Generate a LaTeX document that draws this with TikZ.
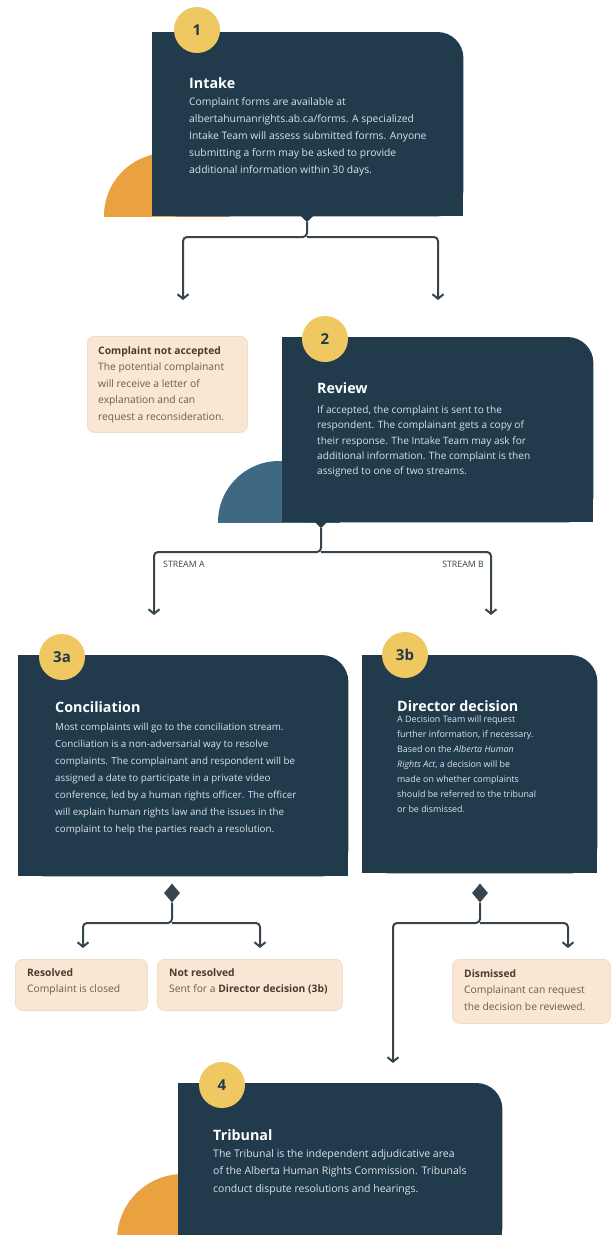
\documentclass[tikz,border=0pt]{standalone}
\usepackage{fontspec}
\setmainfont{Open Sans}
\usetikzlibrary{arrows.meta,shapes.geometric}
\definecolor{navy}{HTML}{213A4C}
\definecolor{bodytxt}{HTML}{DCE3E8}
\definecolor{yell}{HTML}{F0C862}
\definecolor{orangeC}{HTML}{E9A23F}
\definecolor{bluegrey}{HTML}{3F6982}
\definecolor{peach}{HTML}{F9E7D3}
\definecolor{peachedge}{HTML}{F1DCC6}
\definecolor{ptitle}{HTML}{4A3B30}
\definecolor{pbody}{HTML}{6E5A4A}
\definecolor{connC}{HTML}{38444E}
\newcommand\fTitle{\fontsize{14.3}{14}\selectfont\bfseries}
\newcommand\fBodyOne{\fontsize{10.35}{17}\selectfont}
\newcommand\fBodyTwo{\fontsize{10.1}{15.3}\selectfont}
\newcommand\fBodyThree{\fontsize{9.8}{17}\selectfont}
\newcommand\fBodyFour{\fontsize{10.5}{17.5}\selectfont}
\newcommand\fBodyC{\fontsize{8.9}{15}\selectfont}
\newcommand\fPeach{\fontsize{10.3}{16.5}\selectfont}
\newcommand\fNum{\fontsize{15}{15}\selectfont\bfseries}
\newcommand\fStream{\fontsize{8.8}{9}\selectfont}
\begin{document}
\begin{tikzpicture}[x=1pt,y=-1pt,
  area/.style={anchor=north west, inner sep=0pt, draw=none},
  numc/.style={circle, fill=yell, minimum size=46pt, inner sep=0pt, text=navy, font=\fNum},
  ttl/.style={anchor=west, inner sep=0pt, text=white, font=\fTitle},
  bodytext/.style={anchor=north west, inner sep=0pt, align=left, text=bodytxt},
  pbox/.style={anchor=north west, inner sep=0pt, rounded corners=7pt, fill=peach, draw=peachedge, line width=0.8pt},
  ptext/.style={anchor=north west, inner sep=0pt, align=left, text=pbody, font=\fPeach},
  conn/.style={draw=connC, line width=2pt, rounded corners=4pt},
  arr/.style={conn, -{Straight Barb[length=4.5pt,width=11pt,line width=2pt]}},
  dmd/.style={diamond, fill=connC, inner sep=0pt, minimum width=16pt, minimum height=19pt},
  slabel/.style={inner sep=0pt, text=connC, font=\fStream}
]
\useasboundingbox (0,0) rectangle (613,1235);
\clip (0,0) rectangle (613,1235);
\fill[white] (0,0) rectangle (613,1235);

% ---------- Box 1 ----------
\begin{scope}
  \clip (0,0) rectangle (613,216);
  \fill[orangeC] (167,216) circle[radius=63];
\end{scope}
\node[area, minimum width=311pt, minimum height=184pt] (b1) at (152,32) {};
\fill[navy, rounded corners=26pt] (b1.south west) rectangle (b1.north east);
\fill[navy] (b1.south west) rectangle ([xshift=-30pt]b1.north east);
\fill[navy] (b1.south west) rectangle ([yshift=-30pt]b1.north east);
\coordinate (t1) at (307,216);
\fill[navy] ([xshift=-6pt]t1) -- ([xshift=6pt]t1) -- ([yshift=-6pt]t1) -- cycle;
\node[numc] (c1) at (197,30) {1};
\node[ttl] (ti1) at (189,83) {Intake};
\node[bodytext, font=\fBodyOne] (tx1) at (189,97.5) {Complaint forms are available at\\
albertahumanrights.ab.ca/forms. A specialized\\
Intake Team will assess submitted forms. Anyone\\
submitting a form may be asked to provide\\
additional information within 30 days.};

% connectors from box 1
\coordinate (h1) at (307,237);
\coordinate (e1l) at (183,300);
\coordinate (e1r) at (438,300);
\draw[arr] ([yshift=-6pt]t1) -- (h1) -| (e1l);
\draw[arr] (h1) -| (e1r);

% ---------- Complaint not accepted ----------
\node[pbox, minimum width=160pt, minimum height=96pt] (nacc) at (87,336) {};
\node[ptext] (nacct) at (98,346) {\textcolor{ptitle}{\bfseries Complaint not accepted}\\
The potential complainant\\
will receive a letter of\\
explanation and can\\
request a reconsideration.};

% ---------- Box 2 ----------
\begin{scope}
  \clip (0,0) rectangle (613,522);
  \fill[bluegrey] (279,522) circle[radius=61];
\end{scope}
\node[area, minimum width=311pt, minimum height=185pt] (b2) at (282,337) {};
\fill[navy, rounded corners=26pt] (b2.south west) rectangle (b2.north east);
\fill[navy] (b2.south west) rectangle ([xshift=-30pt]b2.north east);
\fill[navy] (b2.south west) rectangle ([yshift=-30pt]b2.north east);
\coordinate (t2) at (321,522);
\fill[navy] ([xshift=-6pt]t2) -- ([xshift=6pt]t2) -- ([yshift=-6pt]t2) -- cycle;
\node[numc] (c2) at (325,339) {2};
\node[ttl] (ti2) at (317,388) {Review};
\node[bodytext, font=\fBodyTwo] (tx2) at (317,405.5) {If accepted, the complaint is sent to the\\
respondent. The complainant gets a copy of\\
their response. The Intake Team may ask for\\
additional information. The complaint is then\\
assigned to one of two streams.};

% streams
\coordinate (h2) at (321,552);
\coordinate (e2a) at (154,615);
\coordinate (e2b) at (491,615);
\draw[arr] ([yshift=-6pt]t2) -- (h2) -| (e2a);
\draw[arr] (h2) -| (e2b);
\node[slabel, anchor=west] (sa) at (163,564) {STREAM A};
\node[slabel, anchor=east] (sb) at (484,564) {STREAM B};

% ---------- Box 3a ----------
\node[area, minimum width=330pt, minimum height=221pt] (b3a) at (18,655) {};
\fill[navy, rounded corners=27pt] (b3a.south west) rectangle (b3a.north east);
\fill[navy] (b3a.south west) rectangle ([xshift=-30pt]b3a.north east);
\fill[navy] (b3a.south west) rectangle ([yshift=-30pt]b3a.north east);
\node[numc] (c3a) at (62,657) {3a};
\node[ttl] (ti3a) at (55,707) {Conciliation};
\node[bodytext, font=\fBodyThree] (tx3a) at (55,722.5) {Most complaints will go to the conciliation stream.\\
Conciliation is a non-adversarial way to resolve\\
complaints. The complainant and respondent will be\\
assigned a date to participate in a private video\\
conference, led by a human rights officer. The officer\\
will explain human rights law and the issues in the\\
complaint to help the parties reach a resolution.};

% ---------- Box 3b ----------
\node[area, minimum width=235pt, minimum height=218pt] (b3b) at (362,655) {};
\fill[navy, rounded corners=27pt] (b3b.south west) rectangle (b3b.north east);
\fill[navy] (b3b.south west) rectangle ([xshift=-30pt]b3b.north east);
\fill[navy] (b3b.south west) rectangle ([yshift=-30pt]b3b.north east);
\node[numc] (c3b) at (405,655) {3b};
\node[ttl] (ti3b) at (397,706) {Director decision};
\node[bodytext, font=\fBodyC] (tx3b) at (397,716) {A Decision Team will request\\
further information, if necessary.\\
Based on the \textit{Alberta Human}\\
\textit{Rights Act}, a decision will be\\
made on whether complaints\\
should be referred to the tribunal\\
or be dismissed.};

% ---------- 3a outcomes ----------
\node[dmd] (d3a) at (172,893) {};
\coordinate (h3a) at (172,923);
\coordinate (e3al) at (83,948);
\coordinate (e3ar) at (260,948);
\draw[arr] (d3a.south) -- (h3a) -| (e3al);
\draw[arr] (h3a) -| (e3ar);

\node[pbox, minimum width=132pt, minimum height=51pt] (res) at (15,959) {};
\node[ptext] (rest) at (27,968) {\textcolor{ptitle}{\bfseries Resolved}\\
Complaint is closed};
\node[pbox, minimum width=185pt, minimum height=51pt] (nres) at (157,959) {};
\node[ptext] (nrest) at (169,968) {\textcolor{ptitle}{\bfseries Not resolved}\\
Sent for a \textcolor{ptitle}{\bfseries Director decision (3b)}};

% ---------- 3b outcomes ----------
\node[dmd] (d3b) at (480,893) {};
\coordinate (h3b) at (480,923);
\coordinate (e3bl) at (393,1063);
\coordinate (e3br) at (568,948);
\draw[arr] (d3b.south) -- (h3b) -| (e3bl);
\draw[arr] (h3b) -| (e3br);

\node[pbox, minimum width=158pt, minimum height=64pt] (dis) at (452,959) {};
\node[ptext] (dist) at (464,969) {\textcolor{ptitle}{\bfseries Dismissed}\\
Complainant can request\\
the decision be reviewed.};

% ---------- Box 4 ----------
\fill[orangeC] (183,1240) circle[radius=66];
\node[area, minimum width=324pt, minimum height=170pt] (b4) at (178,1083) {};
\fill[navy, rounded corners=26pt] (b4.south west) rectangle (b4.north east);
\fill[navy] (b4.south west) rectangle ([xshift=-30pt]b4.north east);
\fill[navy] (b4.south west) rectangle ([yshift=-30pt]b4.north east);
\node[numc] (c4) at (222,1085) {4};
\node[ttl] (ti4) at (213,1135) {Tribunal};
\node[bodytext, font=\fBodyFour] (tx4) at (213,1149) {The Tribunal is the independent adjudicative area\\
of the Alberta Human Rights Commission. Tribunals\\
conduct dispute resolutions and hearings.};
\end{tikzpicture}
\end{document}
